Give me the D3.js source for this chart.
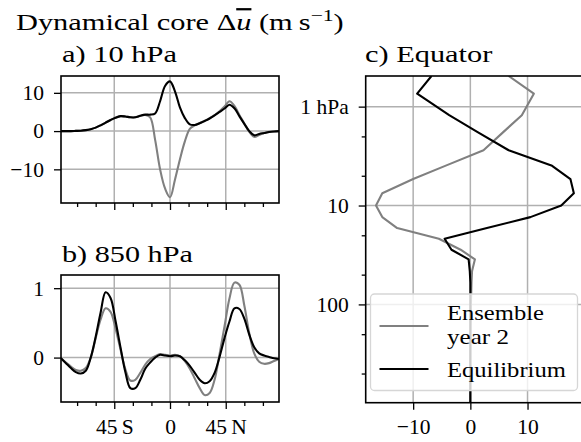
<!DOCTYPE html>
<html><head><meta charset="utf-8">
<script src="https://cdn.jsdelivr.net/npm/d3@7"></script>
<style>
html,body{margin:0;padding:0;background:#fff;}
svg{display:block;}
svg text{font-family:"Liberation Serif","DejaVu Serif","Noto Serif",serif !important;}
</style></head><body>
<svg id="chart" width="581" height="442"></svg>
<script>
// ---------- data ----------
const latitudes = [-88,-84,-80,-76,-72,-68,-64,-60,-56,-52,-48,-44,-40,-36,-32,-28,-24,-20,-16,-12,-8,-4,0,4,8,12,16,20,24,28,32,36,40,44,48,52,56,60,64,68,72,76,80,84,88];
const u10Ensemble = [0,0,0,0.05,0.1,0.25,0.5,0.9,1.5,2.2,2.9,3.5,3.9,3.8,3.6,3.6,4.0,4.2,3.6,-2.3,-10.0,-15.0,-17.3,-12.7,-7.4,-2.7,0.6,1.5,2.1,2.7,3.4,4.2,5.2,6.4,7.8,6.6,4.2,2.0,-0.2,-1.5,-1.0,-0.5,-0.2,-0.1,0];
const u10Equilibrium = [0,0,0,0.05,0.1,0.25,0.5,0.9,1.5,2.2,2.9,3.5,3.9,3.8,3.6,3.6,4.0,4.3,4.3,4.6,7.8,11.8,13.0,10.4,6.2,3.4,1.75,1.6,2.05,2.65,3.3,4.1,5.0,5.9,6.9,5.95,3.9,1.9,0.0,-1.1,-0.75,-0.5,-0.25,-0.1,0];
const u850Ensemble = [-0.01,-0.07,-0.13,-0.18,-0.19,-0.15,0.0,0.28,0.55,0.71,0.66,0.42,0.12,-0.17,-0.33,-0.32,-0.22,-0.10,-0.02,0.02,0.05,0.04,0.03,0.04,0.02,-0.05,-0.16,-0.30,-0.44,-0.54,-0.51,-0.32,0.05,0.45,0.85,1.08,1.05,0.75,0.35,0.06,-0.06,-0.09,-0.08,-0.05,-0.02];
const u850Equilibrium = [-0.01,-0.08,-0.15,-0.21,-0.23,-0.19,0.0,0.30,0.65,0.94,0.86,0.53,0.15,-0.21,-0.44,-0.44,-0.32,-0.16,-0.07,0.0,0.04,0.03,0.02,0.03,0.02,-0.04,-0.12,-0.22,-0.32,-0.37,-0.34,-0.22,0.01,0.28,0.52,0.71,0.70,0.56,0.33,0.15,0.06,0.03,0.01,-0.01,-0.02];
const pressureLevels = [0.49,0.74,1.22,1.8,2.76,3.97,5.4,7.5,10,13.1,16.9,21.7,28,35,46,60,80,100,130,170,220,300,400,500,600,700,850,986];
const eqEnsemble = [6.7,11.1,9.0,5.8,2.3,-4.4,-10.0,-15.4,-16.5,-15.4,-12.8,-5.5,-1.7,0.8,0.3,0.2,0.15,0.1,0.1,0.05,0.05,0,0,0,0,0,0,0];
const eqEquilibrium = [-6.8,-9.3,-3.7,1.2,6.7,14.3,17.5,18.1,15.9,10.5,2.9,-4.5,-3.3,-0.3,-0.1,0,0,0,0,0,0,0,0,0,0,0,0,0];
const latTicks = [-45,0,45];
const latTickLabels = ["45\u2009S","0","45\u2009N"];
const latMinorTicks = [-75,-60,-30,-15,15,30,60,75];
const u10Ticks = [-10,0,10];
const u850Ticks = [0,1];
const eqXTicks = [-10,0,10];
const pTicks = [1,10,100];
const pTickLabels = ["1 hPa","10","100"];
const pMinorTicks = [2,5,20,50,200,500];
const seriesNames = [["Ensemble","year 2"],["Equilibrium"]];
const seriesColors = ["#808080","#000000"];

// ---------- layout ----------
const svg = d3.select("#chart");
const GRID = "#b0b0b0", TICKFS = 21.5, TITLEFS = 22.5, LEGFS = 20.5;
const fmtNum = d => (d < 0 ? "\u2212" + Math.abs(d) : String(d));

const xLat = d3.scaleLinear().domain([-88, 88]).range([61, 279]);
const yA = d3.scaleLinear().domain([-18.8, 14.4]).range([203, 76]);
const yB = d3.scaleLinear().domain([-0.64, 1.19]).range([402, 275]);
const xC = d3.scaleLinear().domain([-18.3, 19.7]).range([365.7, 583]);
const yC = d3.scaleLog().domain([0.49, 986]).range([76, 402.7]);

// stretch a text horizontally so that its box spans [x0, x0+w]
function fitWidth(sel, x0, w) {
  const bb = sel.node().getBBox();
  const s = w / bb.width;
  sel.attr("transform", `translate(${x0},0) scale(${s},1) translate(${-bb.x},0)`);
}

const defs = svg.append("defs");
let clipId = 0;
function makeClip(x, y) {
  const id = "clip" + (clipId++);
  const [x0, x1] = x.range(), [y0, y1] = y.range();
  defs.append("clipPath").attr("id", id).append("rect")
    .attr("x", Math.min(x0, x1)).attr("y", Math.min(y0, y1))
    .attr("width", Math.abs(x1 - x0)).attr("height", Math.abs(y1 - y0));
  return id;
}

function grid(g, x, y, xt, yt) {
  const [xa, xb] = x.range(), [ya, yb] = y.range();
  g.selectAll(null).data(xt).join("line")
    .attr("x1", d => x(d)).attr("x2", d => x(d)).attr("y1", ya).attr("y2", yb)
    .attr("stroke", GRID).attr("stroke-width", 1.5);
  g.selectAll(null).data(yt).join("line")
    .attr("y1", d => y(d)).attr("y2", d => y(d)).attr("x1", xa).attr("x2", xb)
    .attr("stroke", GRID).attr("stroke-width", 1.5);
}

function frame(g, x, y) {
  const [xa, xb] = x.range(), [ya, yb] = y.range();
  g.append("rect").attr("x", Math.min(xa, xb)).attr("y", Math.min(ya, yb))
    .attr("width", Math.abs(xb - xa)).attr("height", Math.abs(yb - ya))
    .attr("fill", "none").attr("stroke", "#000").attr("stroke-width", 1.6);
}

function styleAxis(sel) {
  sel.attr("font-family", null);
  sel.select(".domain").remove();
  sel.selectAll("line").attr("stroke", "#000").attr("stroke-width", 1.3);
  sel.selectAll("text").attr("font-size", TICKFS).attr("fill", "#000");
}

function latPanel(yScale, yTicks, ens, eq, showLabels) {
  const g = svg.append("g");
  grid(g, xLat, yScale, latTicks, yTicks);
  const cid = makeClip(xLat, yScale);
  const line = d3.line().x((d, i) => xLat(latitudes[i])).y(d => yScale(d)).curve(d3.curveCatmullRom.alpha(0.5));
  const lg = g.append("g").attr("clip-path", `url(#${cid})`);
  [ens, eq].forEach((s, k) => {
    lg.append("path").attr("d", line(s)).attr("fill", "none")
      .attr("stroke", seriesColors[k]).attr("stroke-width", 2.1)
      .attr("stroke-linejoin", "round");
  });
  frame(g, xLat, yScale);
  const bottom = yScale.range()[0];
  g.append("g").attr("transform", `translate(0,${bottom})`)
    .call(d3.axisBottom(xLat).tickValues(latMinorTicks).tickSize(4).tickFormat(""))
    .call(styleAxis);
  g.append("g").attr("transform", `translate(0,${bottom})`)
    .call(d3.axisBottom(xLat).tickValues(latTicks).tickSize(7).tickPadding(9.5)
      .tickFormat((d, i) => showLabels ? latTickLabels[i] : ""))
    .call(styleAxis);
  g.append("g").attr("transform", `translate(${xLat.range()[0]},0)`)
    .call(d3.axisLeft(yScale).tickValues(yTicks).tickSize(7).tickPadding(10).tickFormat(fmtNum))
    .call(styleAxis);
  return g;
}

latPanel(yA, u10Ticks, u10Ensemble, u10Equilibrium, false);
latPanel(yB, u850Ticks, u850Ensemble, u850Equilibrium, true);

// panel c
{
  const g = svg.append("g");
  grid(g, xC, yC, eqXTicks, pTicks);
  const cid = makeClip(xC, yC);
  const line = d3.line().x(d => xC(d[0])).y(d => yC(d[1]));
  const lg = g.append("g").attr("clip-path", `url(#${cid})`);
  [eqEnsemble, eqEquilibrium].forEach((s, k) => {
    lg.append("path").attr("d", line(s.map((v, i) => [v, pressureLevels[i]])))
      .attr("fill", "none").attr("stroke", seriesColors[k]).attr("stroke-width", 2.1)
      .attr("stroke-linejoin", "round");
  });
  frame(g, xC, yC);
  g.append("g").attr("transform", `translate(0,${yC.range()[1]})`)
    .call(d3.axisBottom(xC).tickValues(eqXTicks).tickSize(7).tickPadding(9.5).tickFormat(fmtNum))
    .call(styleAxis);
  g.append("g").attr("transform", `translate(${xC.range()[0]},0)`)
    .call(d3.axisLeft(yC).tickValues(pMinorTicks).tickSize(4).tickFormat(""))
    .call(styleAxis);
  g.append("g").attr("transform", `translate(${xC.range()[0]},0)`)
    .call(d3.axisLeft(yC).tickValues(pTicks).tickSize(7).tickPadding(10)
      .tickFormat((d, i) => pTickLabels[i]))
    .call(styleAxis);

  // legend
  const leg = g.append("g");
  leg.append("rect").attr("x", 370.5).attr("y", 294).attr("width", 207).attr("height", 96.5)
    .attr("rx", 4).attr("fill", "#fff").attr("fill-opacity", 0.8)
    .attr("stroke", "#d6d6d6").attr("stroke-width", 1.3);
  const rows = [{ly: 326, ty: [320.5, 344.5], w: [97, 62]}, {ly: 369, ty: [376.7], w: [119]}];
  rows.forEach((r, k) => {
    leg.append("line").attr("x1", 379.5).attr("x2", 428.5).attr("y1", r.ly).attr("y2", r.ly)
      .attr("stroke", seriesColors[k]).attr("stroke-width", 2.1);
    seriesNames[k].forEach((t, j) => {
      const tx = leg.append("text").attr("x", 0).attr("y", r.ty[j]).attr("font-size", LEGFS).text(t);
      fitWidth(tx, 447, r.w[j]);
    });
  });
}

// titles
const title = svg.append("text").attr("x", 0).attr("y", 30).attr("font-size", TITLEFS);
title.append("tspan").text("Dynamical core \u0394");
title.append("tspan").attr("font-style", "italic").attr("text-decoration", "overline").text("u");
title.append("tspan").text(" (m\u2009s");
title.append("tspan").attr("font-size", 16).attr("dy", -9).text("\u22121");
title.append("tspan").attr("dy", 9).text(")");
fitWidth(title, 16, 328);

const ta = svg.append("text").attr("x", 0).attr("y", 61.7).attr("font-size", TITLEFS).text("a) 10 hPa");
fitWidth(ta, 62, 115);
const tb = svg.append("text").attr("x", 0).attr("y", 261.7).attr("font-size", TITLEFS).text("b) 850 hPa");
fitWidth(tb, 62, 131);
const tc = svg.append("text").attr("x", 0).attr("y", 61.7).attr("font-size", TITLEFS).text("c) Equator");
fitWidth(tc, 365, 128);
</script>
</body></html>
